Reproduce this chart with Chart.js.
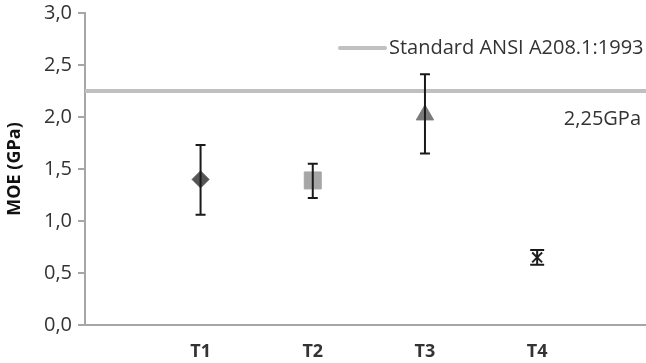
<!DOCTYPE html>
<html>
<head>
<meta charset="utf-8">
<script src="https://cdn.jsdelivr.net/npm/chart.js@4/dist/chart.umd.min.js"></script>
<style>
  html,body{margin:0;padding:0;background:#fff;}
  #wrap{width:646px;height:363px;position:relative;}
</style>
</head>
<body>
<div id="wrap"><canvas id="c" width="646" height="363"></canvas></div>
<script>
// values
const categories = ['T1','T2','T3','T4'];
const xPos = [1, 2, 3, 4];
const means = [1.40, 1.39, 2.02, 0.65];
const errHigh = [1.73, 1.55, 2.41, 0.72];
const errLow = [1.06, 1.22, 1.65, 0.58];
const markers = ['rectRot', 'rect', 'triangle', 'crossRot'];
const markerColors = ['#555555', '#a6a6a6', '#7a7a7a', '#222222'];
const yTicks = [0, 0.5, 1.0, 1.5, 2.0, 2.5, 3.0];
const standardValue = 2.25;
const standardLabel = 'Standard ANSI A208.1:1993';
const standardNote = '2,25GPa';

const FONT = '"Open Sans", sans-serif';
const TXT = '#333333';

const fmt = v => v.toFixed(1).replace('.', ',');

const errorBars = {
  id: 'errorBars',
  afterDatasetsDraw(chart){
    const {ctx, scales:{x, y}} = chart;
    ctx.save();
    ctx.strokeStyle = '#1a1a1a';
    ctx.lineWidth = 2;
    xPos.forEach((xv, i) => {
      const px = x.getPixelForValue(xv);
      const top = y.getPixelForValue(errHigh[i]);
      const bot = y.getPixelForValue(errLow[i]);
      const cap = i === 3 ? 7 : 5;
      ctx.beginPath();
      ctx.moveTo(px, top); ctx.lineTo(px, bot);
      ctx.moveTo(px - cap, top); ctx.lineTo(px + cap, top);
      ctx.moveTo(px - cap, bot); ctx.lineTo(px + cap, bot);
      ctx.stroke();
    });
    ctx.restore();
  }
};

const annot = {
  id: 'annot',
  afterDraw(chart){
    const {ctx, scales:{y}} = chart;
    ctx.save();
    // legend sample
    ctx.strokeStyle = '#c0c0c0';
    ctx.lineWidth = 4;
    ctx.lineCap = 'round';
    ctx.beginPath();
    ctx.moveTo(340, 48); ctx.lineTo(385, 48);
    ctx.stroke();
    ctx.fillStyle = TXT;
    ctx.font = '20px ' + FONT;
    ctx.textBaseline = 'middle';
    ctx.textAlign = 'left';
    ctx.fillText(standardLabel, 389, 48);
    ctx.textAlign = 'right';
    ctx.fillText(standardNote, 641, y.getPixelForValue(1.98));
    ctx.restore();
  }
};

new Chart(document.getElementById('c'), {
  type: 'scatter',
  data: {
    datasets: [
      {
        label: standardLabel,
        type: 'line',
        data: [{x: -0.05, y: standardValue}, {x: 5, y: standardValue}],
        borderColor: '#c0c0c0',
        borderWidth: 4,
        pointRadius: 0,
        order: 2
      },
      {
        label: 'MOE',
        data: xPos.map((xv, i) => ({x: xv, y: means[i]})),
        pointStyle: markers,
        pointRadius: [8.5, 12, 10, 7],
        pointBackgroundColor: markerColors,
        pointBorderColor: markerColors,
        pointBorderWidth: [1, 1, 1, 2],
        order: 1
      }
    ]
  },
  options: {
    responsive: false,
    animation: false,
    layout: {autoPadding: false, padding: {top: 2, right: 0, left: 4, bottom: 0}},
    plugins: {legend: {display: false}, tooltip: {enabled: false}},
    scales: {
      x: {
        type: 'linear', min: -0.03, max: 4.97,
        afterBuildTicks: s => { s.ticks = xPos.map(v => ({value: v})); },
        grid: {display: false},
        border: {display: true, color: '#a6a6a6', width: 2},
        ticks: {
          color: TXT, font: {family: FONT, size: 18, weight: 'bold'}, padding: 8,
          callback: (v) => categories[xPos.indexOf(v)] || ''
        },
        afterFit: s => { s.height = 38; s.paddingLeft = 0; s.paddingRight = 0; }
      },
      y: {
        min: 0, max: 3,
        afterBuildTicks: s => { s.ticks = yTicks.map(v => ({value: v})); },
        grid: {drawOnChartArea: false, color: '#a6a6a6', tickLength: 7, lineWidth: 2},
        border: {display: true, color: '#a6a6a6', width: 2},
        ticks: {color: TXT, font: {family: FONT, size: 20}, padding: 6, callback: v => fmt(v)},
        title: {display: true, text: 'MOE (GPa)', color: '#111', font: {family: FONT, size: 18, weight: 'bold'}, padding: {top: 0, bottom: 0}},
        afterFit: s => { s.width = 81; s.paddingTop = 13; }
      }
    }
  },
  plugins: [errorBars, annot]
});
</script>
</body>
</html>
